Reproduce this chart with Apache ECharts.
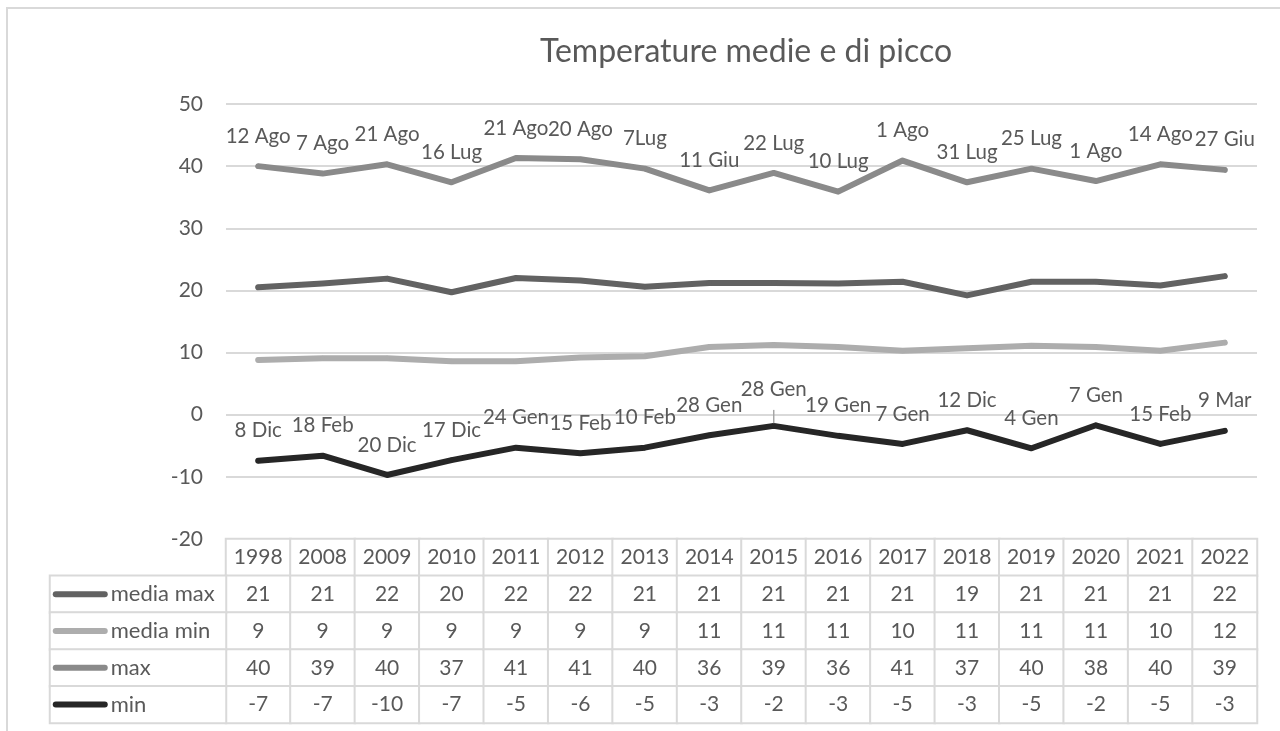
<!DOCTYPE html>
<html>
<head>
<meta charset="utf-8">
<script src="https://cdn.jsdelivr.net/npm/echarts@6/dist/echarts.min.js"></script>
<style>
  html, body { margin: 0; padding: 0; background: #fff; }
  #chart { width: 1280px; height: 731px; }
</style>
</head>
<body>
<div id="chart"></div>
<script>
// categories
const years = ['1998', '2008', '2009', '2010', '2011', '2012', '2013', '2014',
  '2015', '2016', '2017', '2018', '2019', '2020', '2021', '2022']

// series values (table shows them rounded)
const mediaMax = [20.5, 21.1, 21.9, 19.7, 22.0, 21.6, 20.6, 21.2, 21.2, 21.1, 21.4, 19.2, 21.4, 21.4, 20.8, 22.3]
const mediaMin = [8.8, 9.1, 9.1, 8.6, 8.6, 9.2, 9.4, 10.9, 11.2, 10.9, 10.3, 10.7, 11.1, 10.9, 10.3, 11.6]
const maxT = [40.0, 38.8, 40.3, 37.4, 41.3, 41.1, 39.6, 36.1, 38.9, 35.9, 40.9, 37.4, 39.6, 37.6, 40.3, 39.4]
const minT = [-7.4, -6.6, -9.7, -7.3, -5.3, -6.2, -5.3, -3.3, -1.8, -3.4, -4.7, -2.5, -5.4, -1.7, -4.7, -2.6]

// data labels
const maxDates = ['12 Ago', '7 Ago', '21 Ago', '16 Lug', '21 Ago', '20 Ago', '7Lug', '11 Giu',
  '22 Lug', '10 Lug', '1 Ago', '31 Lug', '25 Lug', '1 Ago', '14 Ago', '27 Giu']
const minDates = ['8 Dic', '18 Feb', '20 Dic', '17 Dic', '24 Gen', '15 Feb', '10 Feb', '28 Gen',
  '28 Gen', '19 Gen', '7 Gen', '12 Dic', '4 Gen', '7 Gen', '15 Feb', '9 Mar']

// y axis ticks
const yMin = -20
const yMax = 50
const yStep = 10

const seriesNames = ['media max', 'media min', 'max', 'min']
const seriesColors = ['#626262', '#adadad', '#8a8a8a', '#262626']

const font = 'Lato'
const textColor = '#595959'
const lineGrey = '#d9d9d9'

// excel style rounding for the data table
function xlRound(v) {
  return Math.sign(v) * Math.round(Math.abs(v))
}

const rows = [mediaMax, mediaMin, maxT, minT]
const tableData = []
years.forEach((y, i) => {
  tableData.push([i, 0, Number(y)])
  rows.forEach((r, j) => {
    tableData.push([i, j + 1, xlRound(r[i])])
  })
})
const legendData = seriesNames.map((n, j) => [0, j + 1, j])

const legendRich = {
  t: { fontFamily: font, fontSize: 22, color: textColor, padding: [0, 0, 0, 3] }
}
seriesColors.forEach((c, j) => {
  legendRich['l' + j] = { width: 55, height: 6, backgroundColor: c, borderRadius: 3 }
})

function lineSeries(idx, data, dates) {
  const color = seriesColors[idx]
  const s = {
    name: seriesNames[idx],
    type: 'line',
    xAxisIndex: 0,
    yAxisIndex: 0,
    data: data,
    symbol: 'circle',
    symbolSize: 5,
    lineStyle: { width: 6, color: color, cap: 'round', join: 'round' },
    itemStyle: { color: color },
    emphasis: { disabled: true },
    label: { show: false }
  }
  if (dates) {
    s.label = {
      show: true,
      position: 'top',
      distance: 17,
      fontFamily: font,
      fontSize: 20.5,
      color: textColor,
      formatter: p => dates[p.dataIndex]
    }
  }
  return s
}

const minSeries = lineSeries(3, minT.map((v, i) => {
  if (i === 8) {
    return {
      value: v,
      label: { distance: 24 },
      labelLine: { show: true, lineStyle: { color: '#a6a6a6', width: 1.5 } }
    }
  }
  return v
}), minDates)

const chart = echarts.init(document.getElementById('chart'))
chart.setOption({
  animation: false,
  title: {
    text: 'Temperature medie e di picco',
    left: 741,
    top: 31,
    textAlign: 'center',
    textStyle: { fontFamily: font, fontSize: 32, fontWeight: 'normal', color: textColor }
  },
  graphic: [{
    type: 'rect',
    shape: { x: 7, y: 8, width: 1400, height: 1000 },
    style: { fill: 'none', stroke: lineGrey, lineWidth: 2 },
    silent: true
  }],
  grid: [
    { left: 226, right: 23, top: 104, height: 435 },
    { left: 226, right: 23, top: 539, height: 184 },
    { left: 50, width: 176, top: 539, height: 184 }
  ],
  xAxis: [
    { gridIndex: 0, type: 'category', data: years, boundaryGap: true, show: false },
    { gridIndex: 1, type: 'category', data: years, boundaryGap: true, show: false },
    { gridIndex: 2, type: 'category', data: [''], boundaryGap: true, show: false }
  ],
  yAxis: [
    {
      gridIndex: 0,
      type: 'value',
      min: yMin,
      max: yMax,
      interval: yStep,
      axisLine: { show: false },
      axisTick: { show: false },
      axisLabel: { fontFamily: font, fontSize: 21, color: textColor, margin: 23 },
      splitLine: { lineStyle: { color: lineGrey, width: 2 } }
    },
    { gridIndex: 1, type: 'category', data: ['', ...seriesNames], inverse: true, show: false },
    { gridIndex: 2, type: 'category', data: ['', ...seriesNames], inverse: true, show: false }
  ],
  series: [
    lineSeries(0, mediaMax),
    lineSeries(1, mediaMin),
    lineSeries(2, maxT, maxDates),
    minSeries,
    {
      type: 'heatmap',
      xAxisIndex: 1,
      yAxisIndex: 1,
      data: tableData,
      itemStyle: { color: '#fff', borderColor: lineGrey, borderWidth: 2 },
      label: {
        show: true,
        fontFamily: font,
        fontSize: 21,
        color: textColor,
        formatter: p => String(p.value[2])
      },
      emphasis: { disabled: true }
    },
    {
      type: 'heatmap',
      xAxisIndex: 2,
      yAxisIndex: 2,
      data: legendData,
      itemStyle: { color: '#fff', borderColor: lineGrey, borderWidth: 2 },
      label: {
        show: true,
        position: 'insideLeft',
        distance: 4,
        formatter: p => '{l' + p.value[2] + '|}{t|' + seriesNames[p.value[2]] + '}',
        rich: legendRich
      },
      emphasis: { disabled: true }
    }
  ]
})
</script>
</body>
</html>
